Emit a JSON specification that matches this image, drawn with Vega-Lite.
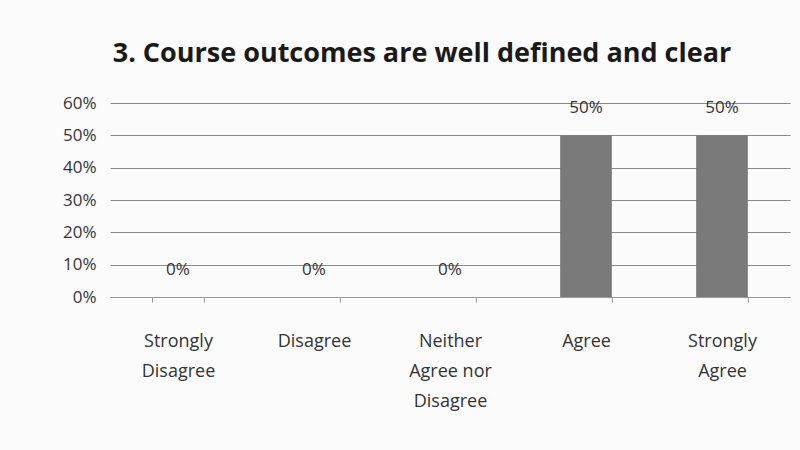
{
  "$schema": "https://vega.github.io/schema/vega-lite/v6.json",
  "width": 680,
  "height": 194,
  "autosize": {"type": "none"},
  "padding": {"left": 110, "top": 103, "right": 10, "bottom": 153},
  "background": "#fbfbfb",
  "config": {"view": {"stroke": null}, "font": "Open Sans"},
  "title": {
    "text": "3.  Course outcomes are well defined and clear",
    "fontSize": 27,
    "fontWeight": "bold",
    "color": "#1a1a1a",
    "anchor": "middle",
    "offset": 26,
    "dx": -28
  },
  "data": {
    "values": [
      {"category": "Strongly|Disagree", "value": 0, "label": "0%"},
      {"category": "Disagree", "value": 0, "label": "0%"},
      {"category": "Neither|Agree nor|Disagree", "value": 0, "label": "0%"},
      {"category": "Agree", "value": 0.5, "label": "50%"},
      {"category": "Strongly|Agree", "value": 0.5, "label": "50%"}
    ]
  },
  "encoding": {
    "x": {
      "field": "category",
      "type": "nominal",
      "sort": null,
      "scale": {"paddingInner": 0.62, "paddingOuter": 0.31},
      "axis": {
        "title": null,
        "labelAngle": 0,
        "labelExpr": "datum.value ? split(datum.value, '|') : ''",
        "labelFontSize": 18,
        "labelColor": "#333333",
        "labelPadding": 30,
        "labelLineHeight": 30,
        "labelOverlap": false,
        "domainColor": "#999999",
        "tickColor": "#999999",
        "ticks": true,
        "tickSize": 5,
        "tickBand": "extent"
      }
    },
    "y": {
      "field": "value",
      "type": "quantitative",
      "scale": {"domain": [0, 0.6]},
      "axis": {
        "title": null,
        "format": ".0%",
        "values": [0, 0.1, 0.2, 0.3, 0.4, 0.5, 0.6],
        "labelOverlap": false,
        "labelFontSize": 17,
        "labelColor": "#333333",
        "labelPadding": 14,
        "gridColor": "#8a8a8a",
        "gridWidth": 1,
        "domain": false,
        "ticks": false
      }
    }
  },
  "layer": [
    {"mark": {"type": "bar", "color": "#7a7a7a"}},
    {
      "mark": {"type": "text", "dy": -27, "fontSize": 17, "color": "#333333"},
      "encoding": {"text": {"field": "label"}, "y": {"field": "value", "type": "quantitative"}}
    }
  ]
}
